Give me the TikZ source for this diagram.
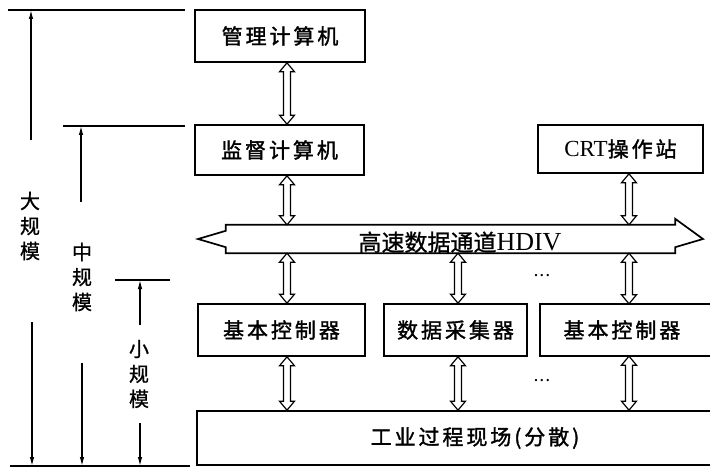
\documentclass[tikz,border=0pt]{standalone}
\usepackage{fontspec}
\setmainfont{Liberation Serif}
\newfontfamily\cjk{Noto Sans CJK SC}[FakeBold=1]
\newfontfamily\cjkbox{Noto Sans CJK SC}[LetterSpace=14,FakeBold=1.5]
\usetikzlibrary{arrows.meta,calc}
\tikzset{
  box/.style={draw, line width=1.6pt, inner sep=0pt, font=\cjkbox\fontsize{21}{21}\selectfont},
  boxtext/.style={inner sep=0pt, font=\cjkbox\fontsize{21}{21}\selectfont},
  dblarr/.style={line width=1.2pt, line join=miter, to path={let \p1=(\tikztostart), \p2=(\tikztotarget) in
    (\x1,\y1) -- (\x1+7.5pt,\y1-9pt) -- (\x1+3.5pt,\y1-9pt) -- (\x1+3.5pt,\y2+9pt) -- (\x1+7.5pt,\y2+9pt) -- (\x1,\y2)
    -- (\x1-7.5pt,\y2+9pt) -- (\x1-3.5pt,\y2+9pt) -- (\x1-3.5pt,\y1-9pt) -- (\x1-7.5pt,\y1-9pt) -- cycle}},
  dimline/.style={line width=1.2pt},
  dimarr/.style={line width=1.2pt, -{Latex[length=9pt,width=4.5pt]}},
  dimlab/.style={align=center, inner sep=0pt, font=\cjk\fontsize{20}{25}\selectfont},
  dotsty/.style={inner sep=0pt, font=\fontsize{14}{14}\selectfont\bfseries},
}
\begin{document}
\begin{tikzpicture}[x=1pt, y=-1pt]
\fill[white] (0,0) rectangle (710,468);
\useasboundingbox (0,0) rectangle (710,468);

% column positions
\coordinate (c1) at (287,0);
\coordinate (c2) at (458,0);
\coordinate (c3) at (629,0);

% boxes
\node[box, minimum width=170pt, minimum height=52pt] (mgmt) at (280,36) {管理计算机};
\node[box, minimum width=169pt, minimum height=50pt] (sup) at (279.5,150) {监督计算机};
\node[box, minimum width=165pt, minimum height=48pt] (crt) at (620.5,149) {{\rmfamily\fontsize{23}{23}\selectfont CRT}操作站};
\node[box, minimum width=167pt, minimum height=52pt] (bc1) at (281.5,330) {基本控制器};
\node[box, minimum width=143pt, minimum height=52pt] (dac) at (455.5,330) {数据采集器};
\node[boxtext, minimum width=164pt, minimum height=52pt] (bc2) at (622,330) {基本控制器};
\draw[line width=1.6pt] ([xshift=40pt]bc2.north east) -- (bc2.north west) -- (bc2.south west) -- ([xshift=40pt]bc2.south east);
\node[box, minimum width=556pt, minimum height=54pt] (field) at (475,438) {工业过程现场(分散)};

% high speed bus
\node[minimum width=449pt, minimum height=28pt, inner sep=0pt] (bus) at (450.5,239) {};
\coordinate (busL) at (198,239);
\coordinate (busR) at (703,239);
\draw[line width=1.7pt, line join=miter]
  (bus.north west) -- (bus.north east) -- ++(0,-6) -- (busR) -- ($(bus.south east)+(0,-6)$)
  -- (bus.south east) -- (bus.south west) -- ($(bus.south west)+(0,-6)$) -- (busL)
  -- ($(bus.north west)+(0,6)$) -- cycle;
\node[inner sep=0pt, anchor=base] (bustext) at (460,251) {{\cjk\fontsize{23}{23}\selectfont 高速数据通道}{\fontsize{26}{26}\selectfont HDIV}};

% double arrows
\draw[dblarr] (c1 |- mgmt.south) to (c1 |- sup.north);
\draw[dblarr] (c1 |- sup.south) to (c1 |- bus.north);
\draw[dblarr] (c3 |- crt.south) to (c3 |- bus.north);
\draw[dblarr] (c1 |- bus.south) to (c1 |- bc1.north);
\draw[dblarr] (c2 |- bus.south) to (c2 |- dac.north);
\draw[dblarr] (c3 |- bus.south) to (c3 |- bc2.north);
\draw[dblarr] (c1 |- bc1.south) to (c1 |- field.north);
\draw[dblarr] (c2 |- dac.south) to (c2 |- field.north);
\draw[dblarr] (c3 |- bc2.south) to (c3 |- field.north);

\node[dotsty] (dots1) at (542,276) {.\,.\,.};
\node[dotsty] (dots2) at (542,381) {.\,.\,.};

% scale marks on the left
\coordinate (t1) at (8,10);   \coordinate (t2) at (185,10);
\coordinate (m1) at (63,126); \coordinate (m2) at (185,126);
\coordinate (s1) at (115,280);\coordinate (s2) at (170,280);
\coordinate (b1) at (10,466); \coordinate (b2) at (190,466);
\draw[dimline] (t1) -- (t2);
\draw[dimline] (m1) -- (m2);
\draw[dimline] (s1) -- (s2);
\draw[dimline] (b1) -- (b2);

\node[dimlab] (L) at (30,226) {大\\规\\模};
\node[dimlab] (M) at (82,277) {中\\规\\模};
\node[dimlab] (S) at (139,374) {小\\规\\模};

\draw[dimarr] (31,140) -- (31,10);
\draw[dimarr] (32,322) -- (32,466);
\draw[dimarr] (81,202) -- (81,126);
\draw[dimarr] (82,363) -- (82,466);
\draw[dimarr] (140,325) -- (140,280);
\draw[dimarr] (140,423) -- (140,466);
\end{tikzpicture}
\end{document}
